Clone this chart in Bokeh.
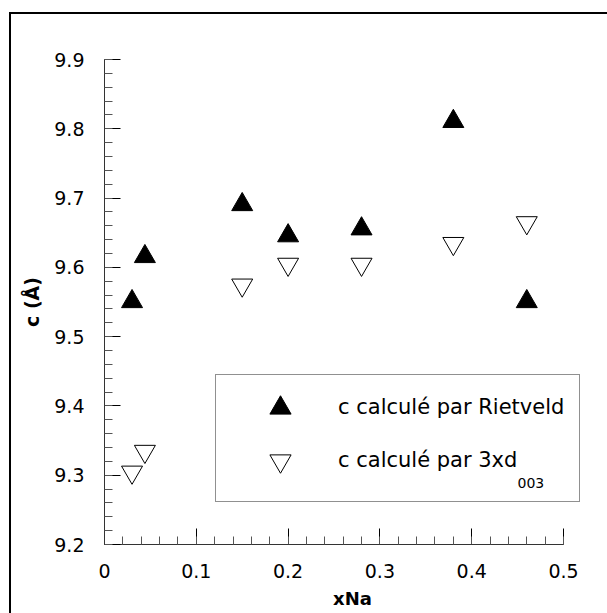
import math
from bokeh.plotting import figure
from bokeh.models import (Range1d, SingleIntervalTicker, Legend, LegendItem,
                          Label, ColumnDataSource)
from bokeh.transform import dodge
from bokeh.embed import file_html
from bokeh.resources import INLINE

# ---------------- data ----------------
x_na = [0.03, 0.044, 0.15, 0.20, 0.28, 0.38, 0.46]
c_rietveld = [9.555, 9.62, 9.695, 9.65, 9.66, 9.815, 9.555]
c_3xd003 = [9.30, 9.33, 9.57, 9.60, 9.60, 9.63, 9.66]
legend_labels = ["c calculé par Rietveld", "c calculé par 3xd"]
legend_subscript = "003"
x_title = "xNa"
y_title = "c (Å)"
x_limits = (0.0, 0.5)
y_limits = (9.2, 9.9)
tick_step = 0.1

# ---------------- style ----------------
FONT = "DejaVu Sans"
W, H = 607, 613
ML, MR, MT, MB = 104, 7, 59, 69
AXIS_PX = 459                      # drawn length of the x axis
FRAME_W = W - ML - MR
FRAME_H = H - MT - MB
MARKER = 21
# the frame is wider than the x axis so that the legend box is not clipped
x_view_end = x_limits[0] + (x_limits[1] - x_limits[0]) * FRAME_W / AXIS_PX
# Bokeh triangles are anchored at their centroid; shift so the box centre sits on the value
tri_h = MARKER * math.sqrt(3) / 2
anchor_shift = (tri_h / 6) * (y_limits[1] - y_limits[0]) / FRAME_H

src = ColumnDataSource(dict(x=x_na, r=c_rietveld, d=c_3xd003))

p = figure(width=W, height=H, output_backend="svg", toolbar_location=None,
           x_range=Range1d(x_limits[0], x_view_end), y_range=Range1d(*y_limits),
           min_border_left=ML, min_border_right=MR, min_border_top=MT,
           min_border_bottom=MB)
p.background_fill_color = "white"
p.border_fill_color = None
p.outline_line_color = None
p.grid.visible = False
# outer frame of the picture (top and left rules)
p.styles = {"background": (
    "linear-gradient(#000,#000) 9px 12px / calc(100% - 9px) 2px no-repeat, "
    "linear-gradient(#000,#000) 9px 12px / 2px calc(100% - 12px) no-repeat, "
    "#ffffff")}

r1 = p.scatter("x", dodge("r", -anchor_shift, range=p.y_range), source=src,
               marker="triangle", size=MARKER, fill_color="black",
               line_color="black", line_width=1)
r2 = p.scatter("x", dodge("d", anchor_shift, range=p.y_range), source=src,
               marker="inverted_triangle", size=MARKER, fill_color="white",
               line_color="black", line_width=1)

for ax in (p.xaxis[0], p.yaxis[0]):
    ax.ticker = SingleIntervalTicker(interval=tick_step, num_minor_ticks=5)
    ax.axis_line_color = "#333333"
    ax.axis_line_width = 1
    ax.major_tick_in = 16
    ax.major_tick_out = 0
    ax.minor_tick_in = 8
    ax.minor_tick_out = 0
    ax.major_tick_line_color = "black"
    ax.minor_tick_line_color = "#555555"
    ax.major_label_text_font = FONT
    ax.major_label_text_font_size = "19px"
    ax.major_label_text_color = "black"
    ax.axis_label_text_font = FONT
    ax.axis_label_text_font_style = "bold"
    ax.axis_label_text_color = "black"

p.xaxis.bounds = x_limits
p.xaxis.axis_label = x_title
p.xaxis.axis_label_text_font_size = "18px"
p.xaxis.major_label_standoff = 19
p.xaxis.axis_label_standoff = 7
p.xaxis.major_label_overrides = {0: "0"}

p.yaxis.axis_label = y_title
p.yaxis.axis_label_text_font_size = "19px"
p.yaxis.major_label_standoff = 20
p.yaxis.axis_label_standoff = 8

# legend
legend = Legend(items=[LegendItem(label=legend_labels[0], renderers=[r1]),
                       LegendItem(label=legend_labels[1], renderers=[r2])],
                padding=6, margin=0, spacing=0,
                glyph_width=116, glyph_height=53, label_standoff=0,
                label_width=235,
                label_text_font=FONT, label_text_font_size="21px",
                label_text_color="black", border_line_color="#222222",
                border_line_width=1, background_fill_alpha=0)
extra_bottom = 0
try:
    legend.title = " "
    legend.title_location = "below"
    legend.title_text_font_size = "2px"
    legend.title_standoff = 6
    extra_bottom = 0
except Exception:
    legend.title = None
    extra_bottom = 9
legend.location = (215 - ML, (H - MB) - 501.7 + extra_bottom)
p.add_layout(legend)

p.add_layout(Label(x=517, y=482.5, x_units="canvas", y_units="canvas",
                   text=legend_subscript, text_font=FONT, text_font_size="14px",
                   text_color="black", text_baseline="alphabetic",
                   text_align="left", level="overlay"))

open("out.html", "w").write(file_html(p, INLINE))
